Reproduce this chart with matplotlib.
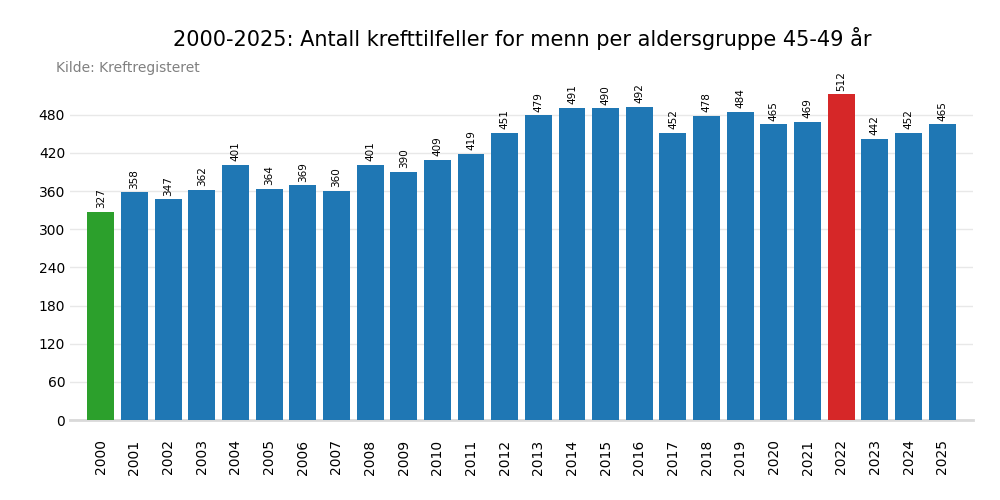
import numpy as np
import matplotlib
matplotlib.use("Agg")
import matplotlib.pyplot as plt

# data
years = list(range(2000, 2026))
cases = [327, 358, 347, 362, 401, 364, 369, 360, 401, 390, 409, 419, 451, 479,
         491, 490, 492, 452, 478, 484, 465, 469, 512, 442, 452, 465]

colors = []
for v in cases:
    if v == min(cases):
        colors.append("#2ca02c")
    elif v == max(cases):
        colors.append("#d62728")
    else:
        colors.append("#1f77b4")

fig = plt.figure(figsize=(10, 5), dpi=100)
ax = fig.add_axes([0.07, 0.16, 0.903, 0.716])

x = np.arange(len(years))
bars = ax.bar(x, cases, width=0.8, color=colors, zorder=3)

for b, v in zip(bars, cases):
    ax.text(b.get_x() + b.get_width() / 2, v + 6, str(v), rotation=90,
            ha="center", va="bottom", fontsize=7.5, color="black")

ax.set_xticks(x)
ax.set_xticklabels([str(y) for y in years], rotation=90, fontsize=10)
ax.set_yticks(np.arange(0, 481, 60))
ax.tick_params(axis="y", labelsize=10, length=0)
ax.tick_params(axis="x", length=0, pad=14)
ax.set_ylim(0, 563)
ax.margins(x=0.02)

ax.grid(axis="y", color="#e8e8e8", linewidth=1, zorder=0)
for s in ["top", "right", "left"]:
    ax.spines[s].set_visible(False)
ax.spines["bottom"].set_color("#d9d9d9")
ax.spines["bottom"].set_linewidth(2)

fig.text(0.522, 0.907, "2000-2025: Antall krefttilfeller for menn per aldersgruppe 45-49 år",
         ha="center", va="baseline", fontsize=15)
fig.text(0.056, 0.856, "Kilde: Kreftregisteret", ha="left", va="baseline",
         fontsize=10, color="gray")

fig.savefig("out.png", dpi=100)
